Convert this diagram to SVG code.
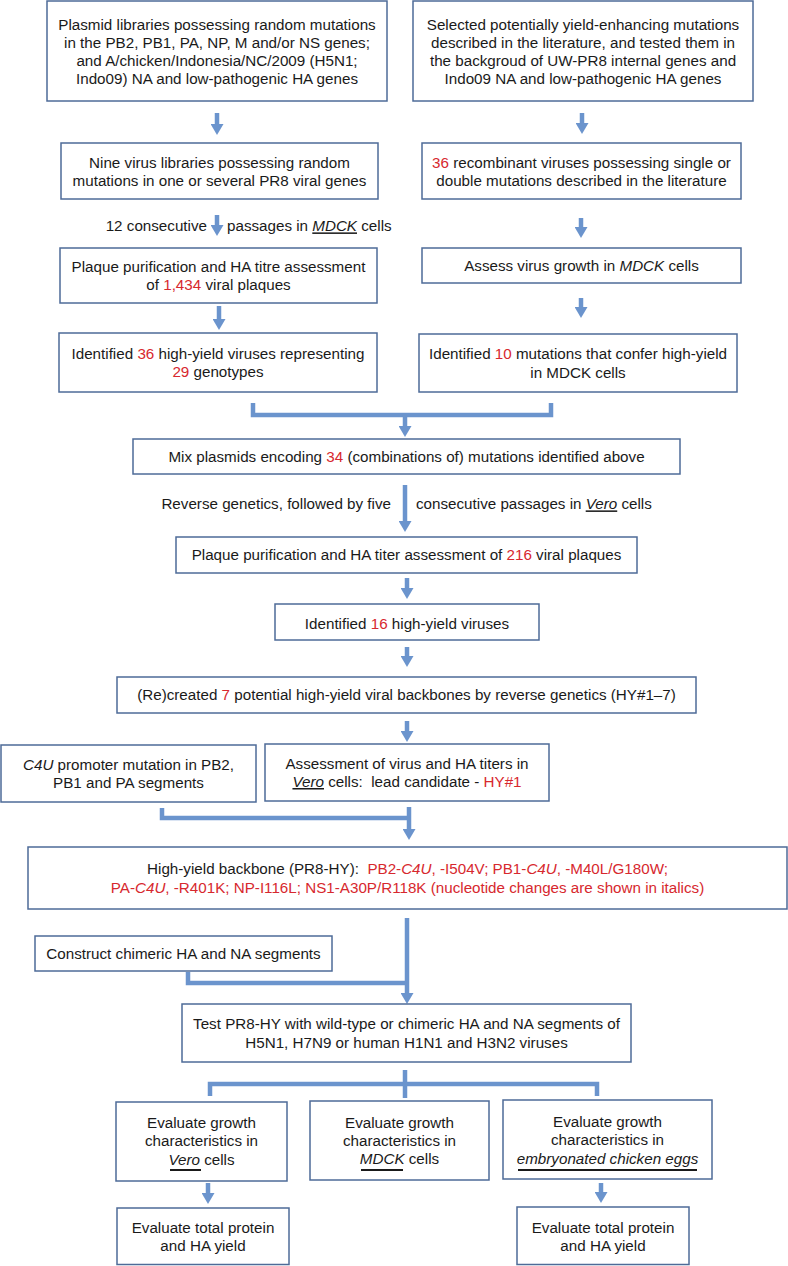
<svg xmlns="http://www.w3.org/2000/svg" width="788" height="1266" viewBox="0 0 788 1266">
<style>
.box{fill:#fff;stroke:#4e6b98;stroke-width:1.5}
.t{font-family:"Liberation Sans",Arial,sans-serif;font-size:15.2px;fill:#1a1a1a;text-anchor:middle}
.l{text-anchor:start}
.e{text-anchor:end}
.r{fill:#d7282e}
.i{font-style:italic}
.u{text-decoration:underline}
.c{fill:none;stroke:#6b94cd;stroke-width:4.5}
.ul{stroke:#1a1a1a;stroke-width:2}
</style>
<defs>
<marker id="ah" markerUnits="userSpaceOnUse" viewBox="0 0 11 13" markerWidth="11" markerHeight="13" refX="6" refY="6.5" orient="auto">
<path d="M0,0 L11,6.5 L0,13 z" fill="#6b94cd"/>
</marker>
</defs>
<rect width="788" height="1266" fill="#fff"/>

<g id="connectors">
<line class="c" x1="217" y1="113" x2="217" y2="130" marker-end="url(#ah)"/>
<line class="c" x1="582" y1="113" x2="582" y2="129" marker-end="url(#ah)"/>
<line class="c" x1="217" y1="215" x2="217" y2="231" marker-end="url(#ah)"/>
<line class="c" x1="581" y1="218" x2="581" y2="233" marker-end="url(#ah)"/>
<line class="c" x1="219" y1="306" x2="219" y2="325" marker-end="url(#ah)"/>
<line class="c" x1="581" y1="298" x2="581" y2="313" marker-end="url(#ah)"/>
<polyline class="c" points="253,403 253,415 551,415 551,403"/>
<line class="c" x1="405" y1="415" x2="405" y2="432" marker-end="url(#ah)"/>
<line class="c" x1="405" y1="485" x2="405" y2="527" marker-end="url(#ah)"/>
<line class="c" x1="407" y1="578" x2="407" y2="594" marker-end="url(#ah)"/>
<line class="c" x1="407" y1="647" x2="407" y2="662" marker-end="url(#ah)"/>
<line class="c" x1="407" y1="721" x2="407" y2="737" marker-end="url(#ah)"/>
<polyline class="c" points="162,808 162,818 409,818"/>
<line class="c" x1="409" y1="807" x2="409" y2="835" marker-end="url(#ah)"/>
<line class="c" x1="407" y1="918" x2="407" y2="999" marker-end="url(#ah)"/>
<polyline class="c" points="188,972 188,983 407,983"/>
<line class="c" x1="405" y1="1070" x2="405" y2="1098"/>
<polyline class="c" points="210,1096 210,1084 597,1084 597,1096"/>
<line class="c" x1="208" y1="1183" x2="208" y2="1199" marker-end="url(#ah)"/>
<line class="c" x1="601" y1="1183" x2="601" y2="1198" marker-end="url(#ah)"/>
</g>

<g id="n1">
<rect class="box" x="47" y="1" width="340" height="100"/>
<text class="t" x="217" y="29.5">Plasmid libraries possessing random mutations</text>
<text class="t" x="217" y="47.7">in the PB2, PB1, PA, NP, M and/or NS genes;</text>
<text class="t" x="217" y="65.9">and A/chicken/Indonesia/NC/2009 (H5N1;</text>
<text class="t" x="217" y="84.1">Indo09) NA and low-pathogenic HA genes</text>
</g>
<g id="n2">
<rect class="box" x="413" y="1" width="340" height="100"/>
<text class="t" x="583" y="29.5">Selected potentially yield-enhancing mutations</text>
<text class="t" x="583" y="47.7">described in the literature, and tested them in</text>
<text class="t" x="583" y="65.9">the backgroud of UW-PR8 internal genes and</text>
<text class="t" x="583" y="84.1">Indo09 NA and low-pathogenic HA genes</text>
</g>
<g id="n3">
<rect class="box" x="61" y="143" width="317" height="56"/>
<text class="t" x="219.5" y="167.7">Nine virus libraries possessing random</text>
<text class="t" x="219.5" y="186">mutations in one or several PR8 viral genes</text>
</g>
<g id="n4">
<rect class="box" x="422" y="143" width="319" height="56"/>
<text class="t" x="581.5" y="167.7"><tspan class="r">36</tspan> recombinant viruses possessing single or</text>
<text class="t" x="581.5" y="186">double mutations described in the literature</text>
</g>
<g id="lbl1">
<text class="t e" x="207" y="231.4">12 consecutive</text>
<text class="t l" x="227" y="231.4">passages in <tspan class="i u">MDCK</tspan> cells</text>
</g>
<g id="n5">
<rect class="box" x="60" y="248" width="317" height="55"/>
<text class="t" x="218.5" y="272.4">Plaque purification and HA titre assessment</text>
<text class="t" x="218.5" y="290.4">of <tspan class="r">1,434</tspan> viral plaques</text>
</g>
<g id="n6">
<rect class="box" x="422" y="248" width="319" height="35"/>
<text class="t" x="581.5" y="271.4">Assess virus growth in <tspan class="i">MDCK</tspan> cells</text>
</g>
<g id="n7">
<rect class="box" x="59" y="333" width="318" height="59"/>
<text class="t" x="218" y="358.7">Identified <tspan class="r">36</tspan> high-yield viruses representing</text>
<text class="t" x="218" y="377"><tspan class="r">29</tspan> genotypes</text>
</g>
<g id="n8">
<rect class="box" x="419" y="334" width="318" height="58"/>
<text class="t" x="578" y="359.4">Identified <tspan class="r">10</tspan> mutations that confer high-yield</text>
<text class="t" x="578" y="377.7">in MDCK cells</text>
</g>
<g id="n9">
<rect class="box" x="133" y="439" width="547" height="35"/>
<text class="t" x="406.5" y="462">Mix plasmids encoding <tspan class="r">34</tspan> (combinations of) mutations identified above</text>
</g>
<g id="lbl2">
<text class="t e" x="391" y="509.4">Reverse genetics, followed by five</text>
<text class="t l" x="416" y="509.4">consecutive passages in <tspan class="i u">Vero</tspan> cells</text>
</g>
<g id="n10">
<rect class="box" x="176" y="537" width="461" height="36"/>
<text class="t" x="406.5" y="560.4">Plaque purification and HA titer assessment of <tspan class="r">216</tspan> viral plaques</text>
</g>
<g id="n11">
<rect class="box" x="275" y="604" width="264" height="36"/>
<text class="t" x="407" y="629.4">Identified <tspan class="r">16</tspan> high-yield viruses</text>
</g>
<g id="n12">
<rect class="box" x="117" y="677" width="579" height="36"/>
<text class="t" x="406.5" y="700.4">(Re)created <tspan class="r">7</tspan> potential high-yield viral backbones by reverse genetics (HY#1–7)</text>
</g>
<g id="n13">
<rect class="box" x="1" y="745" width="255" height="57"/>
<text class="t" x="128.5" y="769.7"><tspan class="i">C4U</tspan> promoter mutation in PB2,</text>
<text class="t" x="128.5" y="787.7">PB1 and PA segments</text>
</g>
<g id="n14">
<rect class="box" x="265" y="744" width="284" height="57"/>
<text class="t" x="407" y="768.7">Assessment of virus and HA titers in</text>
<text class="t" x="407" y="787" xml:space="preserve"><tspan class="i u">Vero</tspan> cells:  lead candidate - <tspan class="r">HY#1</tspan></text>
</g>
<g id="n15">
<rect class="box" x="28" y="847" width="759" height="62"/>
<text class="t" x="407.5" y="874.4" xml:space="preserve">High-yield backbone (PR8-HY):  <tspan class="r">PB2-<tspan class="i">C4U</tspan>, -I504V; PB1-<tspan class="i">C4U</tspan>, -M40L/G180W;</tspan></text>
<text class="t" x="407.5" y="892.7"><tspan class="r">PA-<tspan class="i">C4U</tspan>, -R401K; NP-I116L; NS1-A30P/R118K (nucleotide changes are shown in italics)</tspan></text>
</g>
<g id="n16">
<rect class="box" x="35" y="936" width="297" height="35"/>
<text class="t" x="183.5" y="958.7">Construct chimeric HA and NA segments</text>
</g>
<g id="n17">
<rect class="box" x="182" y="1004" width="449" height="58"/>
<text class="t" x="406.5" y="1028.7">Test PR8-HY with wild-type or chimeric HA and NA segments of</text>
<text class="t" x="406.5" y="1047.7">H5N1, H7N9 or human H1N1 and H3N2 viruses</text>
</g>
<g id="n18">
<rect class="box" x="116" y="1102" width="171" height="79"/>
<text class="t" x="201.5" y="1128">Evaluate growth</text>
<text class="t" x="201.5" y="1146.4">characteristics in</text>
<text class="t" x="201.5" y="1164.7"><tspan class="i">Vero</tspan> cells</text>
<line class="ul" x1="170" y1="1170" x2="201" y2="1170"/>
</g>
<g id="n19">
<rect class="box" x="310" y="1101" width="179" height="79"/>
<text class="t" x="399.5" y="1127.7">Evaluate growth</text>
<text class="t" x="399.5" y="1146">characteristics in</text>
<text class="t" x="399.5" y="1164.4"><tspan class="i">MDCK</tspan> cells</text>
<line class="ul" x1="361" y1="1170" x2="403" y2="1170"/>
</g>
<g id="n20">
<rect class="box" x="503" y="1100" width="209" height="79"/>
<text class="t" x="607.5" y="1127.1">Evaluate growth</text>
<text class="t" x="607.5" y="1145.4">characteristics in</text>
<text class="t" x="607.5" y="1163.7"><tspan class="i">embryonated chicken eggs</tspan></text>
<line class="ul" x1="518" y1="1170" x2="697" y2="1170"/>
</g>
<g id="n21">
<rect class="box" x="117" y="1208" width="172" height="56.5"/>
<text class="t" x="203" y="1233">Evaluate total protein</text>
<text class="t" x="203" y="1251">and HA yield</text>
</g>
<g id="n22">
<rect class="box" x="517" y="1207" width="172" height="57.5"/>
<text class="t" x="603" y="1233">Evaluate total protein</text>
<text class="t" x="603" y="1251">and HA yield</text>
</g>
</svg>
